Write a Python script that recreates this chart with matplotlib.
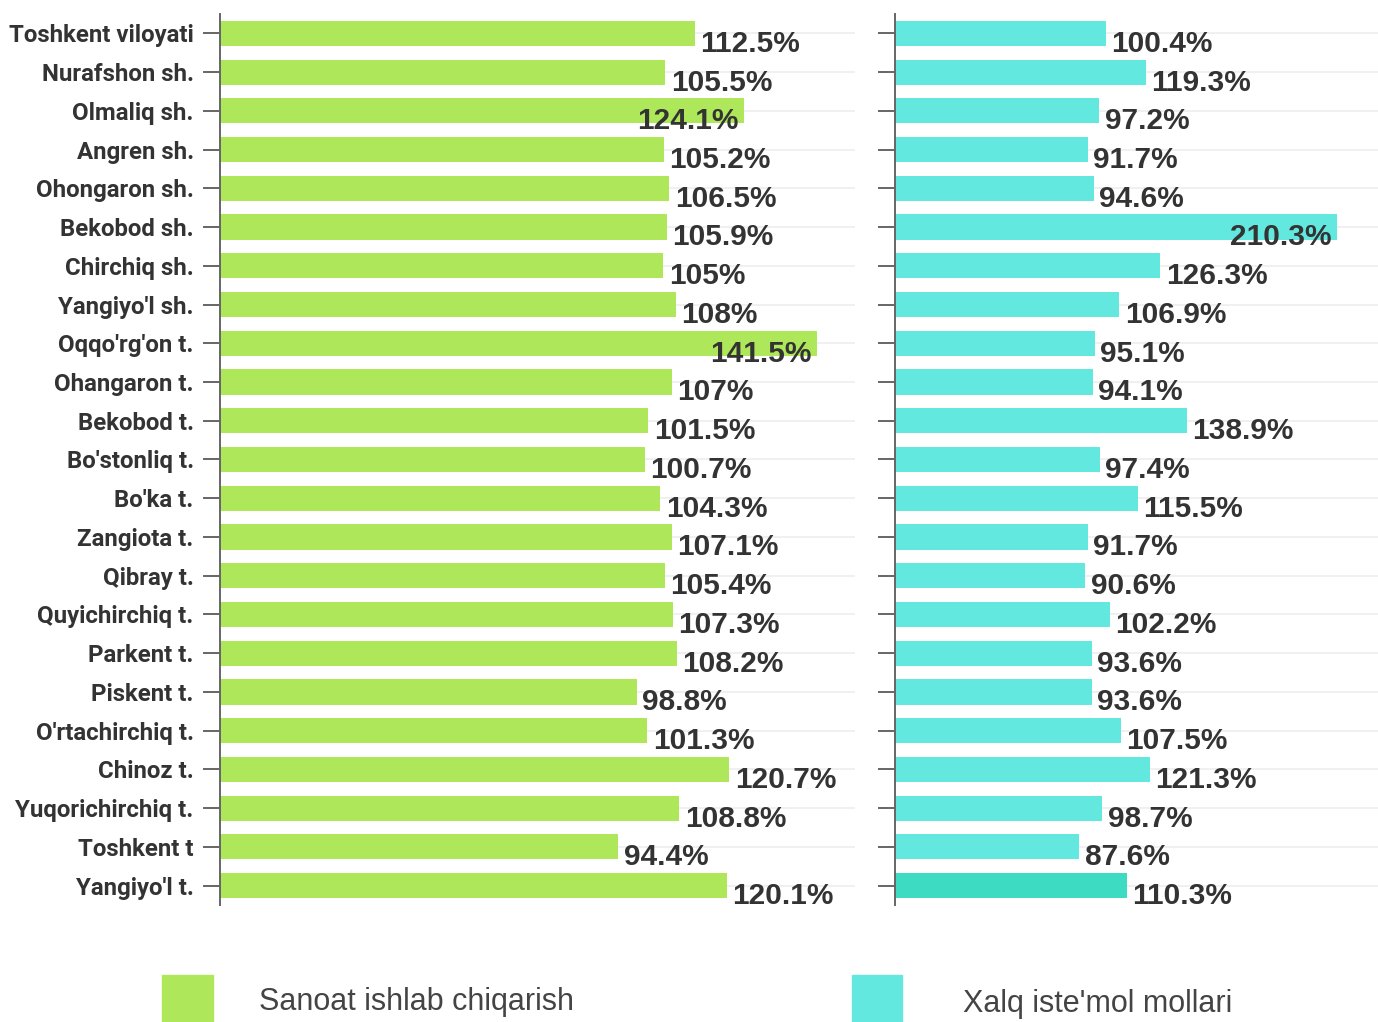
import matplotlib.pyplot as plt
from matplotlib.patches import Rectangle

# Regions (top to bottom)
regions = ["Toshkent viloyati", "Nurafshon sh.", "Olmaliq sh.", "Angren sh.",
           "Ohongaron sh.", "Bekobod sh.", "Chirchiq sh.", "Yangiyo'l sh.",
           "Oqqo'rg'on t.", "Ohangaron t.", "Bekobod t.", "Bo'stonliq t.",
           "Bo'ka t.", "Zangiota t.", "Qibray t.", "Quyichirchiq t.",
           "Parkent t.", "Piskent t.", "O'rtachirchiq t.", "Chinoz t.",
           "Yuqorichirchiq t.", "Toshkent t", "Yangiyo'l t."]

# Sanoat ishlab chiqarish, %
industry = [112.5, 105.5, 124.1, 105.2, 106.5, 105.9, 105.0, 108.0, 141.5,
            107.0, 101.5, 100.7, 104.3, 107.1, 105.4, 107.3, 108.2, 98.8,
            101.3, 120.7, 108.8, 94.4, 120.1]
industry_text = ["112.5%", "105.5%", "124.1%", "105.2%", "106.5%", "105.9%",
                 "105%", "108%", "141.5%", "107%", "101.5%", "100.7%",
                 "104.3%", "107.1%", "105.4%", "107.3%", "108.2%", "98.8%",
                 "101.3%", "120.7%", "108.8%", "94.4%", "120.1%"]

# Xalq iste'mol mollari, %
consumer = [100.4, 119.3, 97.2, 91.7, 94.6, 210.3, 126.3, 106.9, 95.1, 94.1,
            138.9, 97.4, 115.5, 91.7, 90.6, 102.2, 93.6, 93.6, 107.5, 121.3,
            98.7, 87.6, 110.3]
consumer_text = ["100.4%", "119.3%", "97.2%", "91.7%", "94.6%", "210.3%",
                 "126.3%", "106.9%", "95.1%", "94.1%", "138.9%", "97.4%",
                 "115.5%", "91.7%", "90.6%", "102.2%", "93.6%", "93.6%",
                 "107.5%", "121.3%", "98.7%", "87.6%", "110.3%"]

green = "#aee75a"
teal = "#62e8de"
teal_dark = "#3ddcc2"
txt = "#333333"

fig = plt.figure(figsize=(13.78, 10.22), dpi=100)
ax1 = fig.add_axes([0.1597, 0.1145, 0.4608, 0.8718])
ax2 = fig.add_axes([0.6495, 0.1145, 0.3505, 0.8718])

y = list(range(len(regions)))


def draw(ax, values, texts, colors, xmax, inside_from):
    ax.barh(y, values, height=0.65, color=colors, zorder=2)
    ax.set_xlim(0, xmax)
    ax.set_ylim(len(regions) - 0.5, -0.5)
    ax.set_xticks([])
    ax.set_yticks(y)
    for s in ["top", "right", "bottom"]:
        ax.spines[s].set_visible(False)
    ax.spines["left"].set_color("#666666")
    ax.spines["left"].set_linewidth(1.4)
    ax.tick_params(axis="y", length=12, width=1.4, color="#666666", pad=7)
    ax.grid(axis="y", color="#eeeeee", linewidth=1.2, zorder=0)
    for yi, v, t in zip(y, values, texts):
        inside = v >= inside_from
        ax.annotate(t, (v, yi), xytext=(-4 if inside else 4, -7.5),
                    textcoords="offset points",
                    ha="right" if inside else "left", va="center",
                    fontsize=21.5, color=txt, family="Liberation Sans",
                    fontweight="bold", zorder=3)


draw(ax1, industry, industry_text, green, 150.5, 122)
ax1.set_yticklabels(regions, family="Roboto", fontweight="bold",
                    fontsize=17.3, color=txt)

consumer_colors = [teal] * (len(consumer) - 1) + [teal_dark]
draw(ax2, consumer, consumer_text, consumer_colors, 230, 150)
ax2.set_yticklabels([])

# legend at the bottom
fig.patches.append(Rectangle((162 / 1378, -0.01), 51 / 1378, 0.056,
                             transform=fig.transFigure, color=green))
fig.patches.append(Rectangle((852 / 1378, -0.01), 50 / 1378, 0.056,
                             transform=fig.transFigure, color=teal))
fig.text(259 / 1378, 1 - 1002 / 1022, "Sanoat ishlab chiqarish", fontsize=22,
         color="#444444", family="Liberation Sans", va="center")
fig.text(963 / 1378, 1 - 1004 / 1022, "Xalq iste'mol mollari", fontsize=22,
         color="#444444", family="Liberation Sans", va="center")

fig.savefig("out.png", dpi=100)
